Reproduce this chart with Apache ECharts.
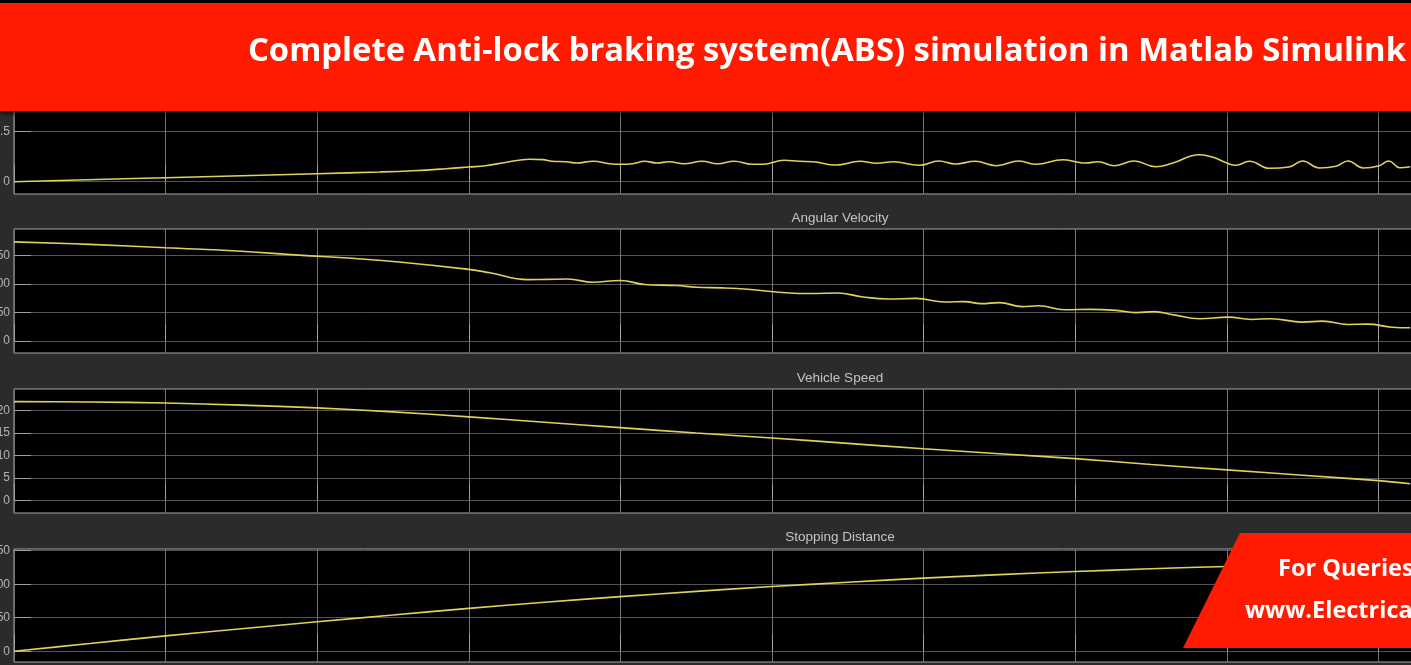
<!DOCTYPE html>
<html>
<head>
<meta charset="utf-8">
<script src="https://cdn.jsdelivr.net/npm/echarts@6/dist/echarts.min.js"></script>
<style>
html,body{margin:0;padding:0;background:#2b2b2b;}
#chart{width:1411px;height:665px;}
</style>
</head>
<body>
<div id="chart"></div>
<script>
// ---- Data ----
const bannerTitle = "Complete Anti-lock braking system(ABS) simulation in Matlab Simulink";
const panelTitles = ["", "Angular Velocity", "Vehicle Speed", "Stopping Distance"];
const queryLines = ["For Queries", "www.Electrical"];

// Panel 1 (slip)
const tSlip = [0, 1, 2, 2.41, 2.63, 2.85, 3.0, 3.11, 3.25, 3.40, 3.49, 3.55, 3.64, 3.71, 3.82, 3.93, 4.0, 4.08, 4.16, 4.24, 4.32, 4.42, 4.54, 4.64, 4.75, 4.87, 4.94, 5.08, 5.18, 5.27, 5.42, 5.58, 5.69, 5.80, 5.97, 6.1, 6.21, 6.34, 6.48, 6.63, 6.74, 6.92, 7.01, 7.07, 7.15, 7.26, 7.39, 7.53, 7.64, 7.82, 7.91, 8.0, 8.06, 8.15, 8.28, 8.41, 8.5, 8.61, 8.72, 8.8, 8.9, 9.0, 9.07, 9.14, 9.21];
const slip = [0.0, 0.04, 0.08, 0.097, 0.11, 0.13, 0.147, 0.16, 0.194, 0.224, 0.221, 0.204, 0.2, 0.187, 0.204, 0.18, 0.174, 0.18, 0.204, 0.187, 0.2, 0.18, 0.204, 0.18, 0.204, 0.174, 0.174, 0.214, 0.204, 0.2, 0.167, 0.204, 0.184, 0.2, 0.164, 0.207, 0.177, 0.204, 0.16, 0.207, 0.174, 0.22, 0.197, 0.187, 0.2, 0.16, 0.207, 0.15, 0.184, 0.27, 0.244, 0.187, 0.164, 0.204, 0.134, 0.147, 0.207, 0.137, 0.154, 0.207, 0.137, 0.157, 0.207, 0.14, 0.15];

// Panel 2 (angular velocity)
const tAng = [0, 0.5, 1, 1.5, 1.88, 2.2, 2.54, 3.0, 3.14, 3.39, 3.52, 3.65, 3.82, 4.0, 4.16, 4.37, 4.5, 4.67, 4.84, 5.09, 5.26, 5.43, 5.6, 5.77, 5.95, 6.14, 6.27, 6.38, 6.5, 6.65, 6.76, 6.93, 7.1, 7.27, 7.4, 7.52, 7.65, 7.82, 8.01, 8.16, 8.29, 8.5, 8.63, 8.8, 8.93, 9.09, 9.21];
const angVel = [174.3, 170, 164, 158, 151, 146, 139, 126, 120, 108, 108.5, 109, 103.5, 106.5, 99.5, 97.7, 94.7, 93.5, 91, 85, 83.5, 84.6, 77.5, 74, 75, 68.7, 69.4, 65.8, 67.6, 60.5, 62, 55, 55.7, 54, 50, 51.7, 46, 39.3, 42, 38, 39.3, 33.3, 35, 29.2, 29.7, 24.4, 23.4];

// Panel 3 (vehicle speed)
const tSpeed = [0, 0.5, 1, 1.5, 2, 2.5, 3, 3.5, 4, 4.5, 5, 5.5, 6, 6.5, 7, 7.5, 8, 8.5, 9, 9.21];
const speed = [22.0, 21.9, 21.7, 21.2, 20.6, 19.7, 18.6, 17.4, 16.2, 15.0, 13.9, 12.7, 11.5, 10.4, 9.3, 8.0, 6.8, 5.6, 4.4, 3.7];

// Panel 4 (stopping distance)
const tDist = [0, 0.5, 1, 1.5, 2, 2.5, 3, 3.5, 4, 4.5, 5, 5.5, 6, 6.5, 7, 7.5, 8, 8.5, 9, 9.21];
const dist = [0, 11.5, 23, 33.5, 44, 54, 64, 73, 81.5, 89.3, 96.5, 103, 109, 114.3, 119, 123, 126.5, 129.5, 132, 133];

// Y tick values per panel
const yTicks1 = [0, 0.5, 1];
const yTicks2 = [0, 50, 100, 150];
const yTicks3 = [0, 5, 10, 15, 20];
const yTicks4 = [0, 50, 100, 150];

// ---- Layout / style ----
const LINE = '#ddd35a';
const panels = [
  {top: 69,  height: 125, min: -0.123, max: 1.127, ticks: yTicks1, t: tSlip,  v: slip},
  {top: 229, height: 124, min: -21,    max: 197,   ticks: yTicks2, t: tAng,   v: angVel},
  {top: 389, height: 124, min: -2.8,   max: 24.8,  ticks: yTicks3, t: tSpeed, v: speed},
  {top: 549, height: 113, min: -16,    max: 152.5, ticks: yTicks4, t: tDist,  v: dist}
];
const X_MAX = 9.248;

const zip = (a, b) => a.map((x, i) => [x, b[i]]);

const grid = [], xAxis = [], yAxis = [], series = [];
panels.forEach((p, i) => {
  grid.push({
    left: 14, width: 1402, top: p.top, height: p.height,
    show: true, backgroundColor: '#000', borderColor: '#a8a8a8', borderWidth: 1,
    containLabel: false, outerBoundsMode: 'none'
  });
  xAxis.push({
    gridIndex: i, type: 'value', min: 0, max: X_MAX, interval: 1,
    axisLine: {show: false},
    axisLabel: {show: false},
    axisTick: {show: true, inside: true, length: 17, lineStyle: {color: '#a0a0a0'}},
    splitLine: {show: true, lineStyle: {color: '#727272', width: 1}}
  });
  yAxis.push({
    gridIndex: i, type: 'value', min: p.min, max: p.max,
    axisLine: {show: false},
    axisTick: {show: true, inside: true, length: 17, lineStyle: {color: '#a0a0a0'}, customValues: p.ticks},
    axisLabel: {show: true, customValues: p.ticks, color: '#b4b4b4', fontSize: 12,
                fontFamily: 'Liberation Sans, Arial, sans-serif', margin: 4},
    splitLine: {show: true, lineStyle: {color: '#545454', width: 1}}
  });
  series.push({
    type: 'line', xAxisIndex: i, yAxisIndex: i,
    data: zip(p.t, p.v), showSymbol: false, symbol: 'none',
    smooth: (i < 2) ? 0.45 : 0.3,
    lineStyle: {color: LINE, width: 1.6},
    silent: true, z: 3
  });
});

const titleY = [0, 218, 378, 537];
const graphic = [];
panelTitles.forEach((tt, i) => {
  if (!tt) return;
  graphic.push({
    type: 'text', x: 840, y: titleY[i], z: 50,
    style: {text: tt, fill: '#c4c4c4', font: '13.5px "Liberation Sans", Arial, sans-serif',
            align: 'center', verticalAlign: 'middle'}
  });
});
// top banner
graphic.push({type: 'rect', z: 90, shape: {x: 0, y: 0, width: 1411, height: 4}, style: {fill: '#000'}});
graphic.push({type: 'rect', z: 91, shape: {x: 0, y: 3, width: 1411, height: 108},
  style: {fill: '#ff1a00', shadowBlur: 6, shadowColor: 'rgba(0,0,0,0.85)', shadowOffsetY: 2}});
graphic.push({type: 'text', z: 92, x: 1406, y: 52,
  style: {text: bannerTitle, fill: '#ffffff', font: 'bold 32.8px "Open Sans", sans-serif',
          align: 'right', verticalAlign: 'middle'}});
// bottom-right banner
graphic.push({type: 'polygon', z: 91,
  shape: {points: [[1240, 533], [1411, 533], [1411, 648], [1183, 648]]},
  style: {fill: '#ff1a00'}});
graphic.push({type: 'text', z: 92, x: 1278, y: 569,
  style: {text: queryLines[0], fill: '#ffffff', font: 'bold 23.5px "Open Sans", sans-serif',
          align: 'left', verticalAlign: 'middle'}});
graphic.push({type: 'text', z: 92, x: 1245, y: 611,
  style: {text: queryLines[1], fill: '#ffffff', font: 'bold 23.5px "Open Sans", sans-serif',
          align: 'left', verticalAlign: 'middle'}});

const chart = echarts.init(document.getElementById('chart'), null, {renderer: 'canvas'});
chart.setOption({
  backgroundColor: '#2b2b2b',
  animation: false,
  grid, xAxis, yAxis, series, graphic
});
</script>
</body>
</html>
